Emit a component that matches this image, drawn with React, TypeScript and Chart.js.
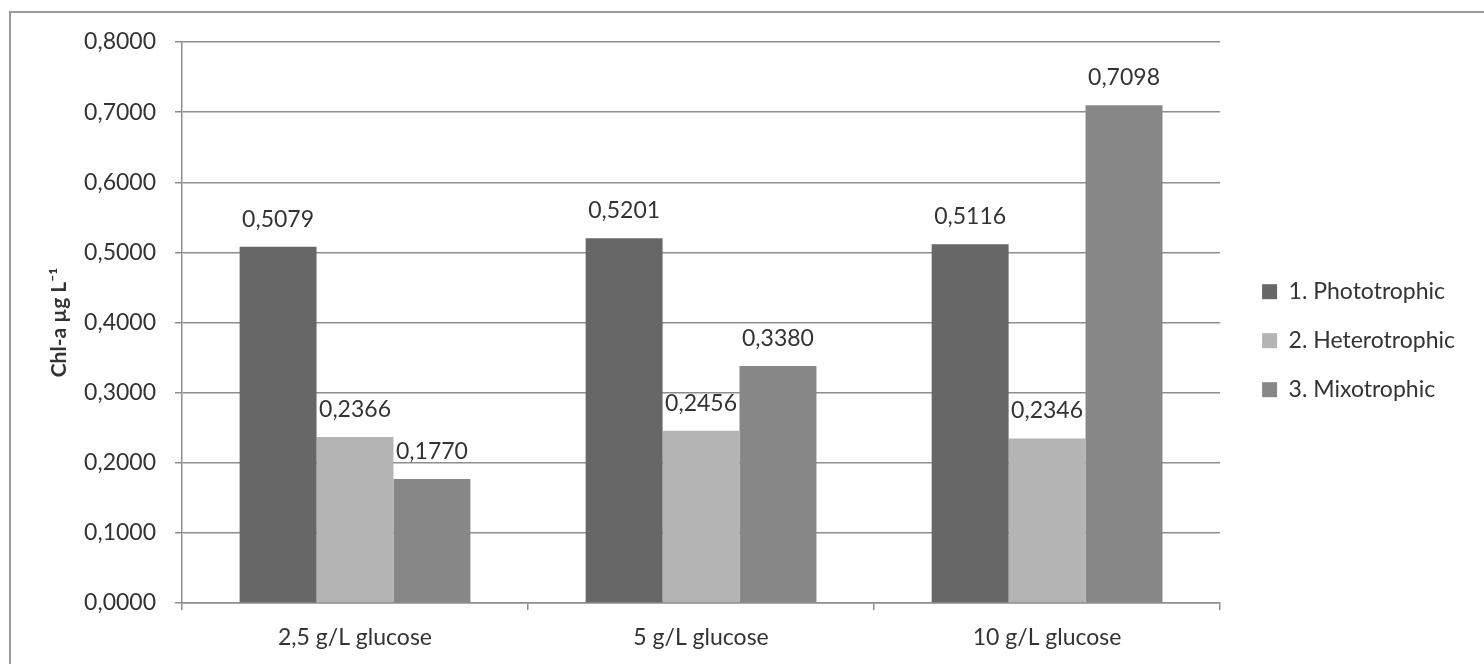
import React, { useEffect, useRef } from "react";
import { Chart, registerables } from "chart.js";

Chart.register(...registerables);

const categories = ["2,5 g/L glucose", "5 g/L glucose", "10 g/L glucose"];
const seriesNames = ["1. Phototrophic", "2. Heterotrophic", "3. Mixotrophic"];
const phototrophic = [0.5079, 0.5201, 0.5116];
const heterotrophic = [0.2366, 0.2456, 0.2346];
const mixotrophic = [0.177, 0.338, 0.7098];
const seriesColors = ["#676767", "#b4b4b4", "#878787"];
const yTitle = "Chl-a µg L⁻¹";

const FONT = "Lato";
const TEXT = "#333333";
const GRID = "#8e8e8e";

const fmt = (v: number) => v.toFixed(4).replace(".", ",");

const valueLabels = {
  id: "valueLabels",
  afterDatasetsDraw(chart: any) {
    const ctx = chart.ctx;
    ctx.save();
    ctx.font = `23px ${FONT}`;
    ctx.fillStyle = TEXT;
    ctx.textAlign = "center";
    ctx.textBaseline = "alphabetic";
    chart.data.datasets.forEach((ds: any, di: number) => {
      const meta = chart.getDatasetMeta(di);
      meta.data.forEach((el: any, i: number) => {
        ctx.fillText(fmt(ds.data[i]), el.x, el.y - 20);
      });
    });
    ctx.restore();
  },
};

export default function App() {
  const ref = useRef<HTMLCanvasElement>(null);

  useEffect(() => {
    if (!ref.current) return;
    const data = [phototrophic, heterotrophic, mixotrophic];
    const chart = new Chart(ref.current, {
      type: "bar",
      data: {
        labels: categories,
        datasets: seriesNames.map((name, i) => ({
          label: name,
          data: data[i],
          backgroundColor: seriesColors[i],
          borderWidth: 0,
          categoryPercentage: 0.667,
          barPercentage: 1,
        })),
      },
      options: {
        animation: false,
        responsive: false,
        maintainAspectRatio: false,
        layout: { padding: { top: 42, bottom: 0, left: 0, right: 19 } },
        plugins: {
          tooltip: { enabled: false },
          legend: {
            position: "right",
            align: "start",
            title: {
              display: true,
              text: " ",
              font: { family: FONT, size: 1 },
              padding: { top: 211, bottom: 0 },
            },
            labels: {
              boxWidth: 15,
              boxHeight: 15,
              padding: 26,
              color: TEXT,
              font: { family: FONT, size: 23 },
            },
          },
        },
        scales: {
          x: {
            grid: {
              display: true,
              offset: true,
              drawOnChartArea: false,
              drawTicks: true,
              tickLength: 7,
              color: GRID,
              lineWidth: 1.5,
            },
            border: { display: true, color: GRID, width: 1.5 },
            ticks: {
              color: TEXT,
              padding: 14,
              font: { family: FONT, size: 23 },
              maxRotation: 0,
            },
            afterFit: (s: any) => {
              s.height = 61;
            },
          },
          y: {
            min: 0,
            max: 0.8,
            grid: {
              color: GRID,
              lineWidth: 1.5,
              tickLength: 7,
              drawTicks: true,
            },
            border: { display: true, color: GRID, width: 1.5 },
            ticks: {
              stepSize: 0.1,
              color: TEXT,
              padding: 19,
              font: { family: FONT, size: 23 },
              callback: (v: any) => fmt(Number(v)),
            },
            title: {
              display: true,
              text: yTitle,
              color: TEXT,
              font: { family: FONT, size: 21, weight: "bold" },
              padding: { top: 47, bottom: 0 },
            },
            afterFit: (s: any) => {
              s.width = 182;
            },
          },
          spacer: {
            type: "linear",
            position: "right",
            display: true,
            grid: { display: false, drawTicks: false },
            border: { display: false },
            ticks: { display: false },
            afterFit: (s: any) => {
              s.width = 16;
            },
          },
        },
      },
      plugins: [valueLabels],
    } as any);
    return () => chart.destroy();
  }, []);

  return (
    <div
      style={{
        position: "absolute",
        left: 0,
        top: 0,
        width: 1484,
        height: 664,
        overflow: "hidden",
        background: "#ffffff",
      }}
    >
      <div
        style={{
          position: "absolute",
          left: 9,
          top: 11,
          width: 1600,
          height: 800,
          borderLeft: "2px solid #9a9a9a",
          borderTop: "2px solid #9a9a9a",
        }}
      />
      <canvas
        ref={ref}
        width={1484}
        height={664}
        style={{ position: "absolute", left: 0, top: 0, display: "block" }}
      />
    </div>
  );
}
